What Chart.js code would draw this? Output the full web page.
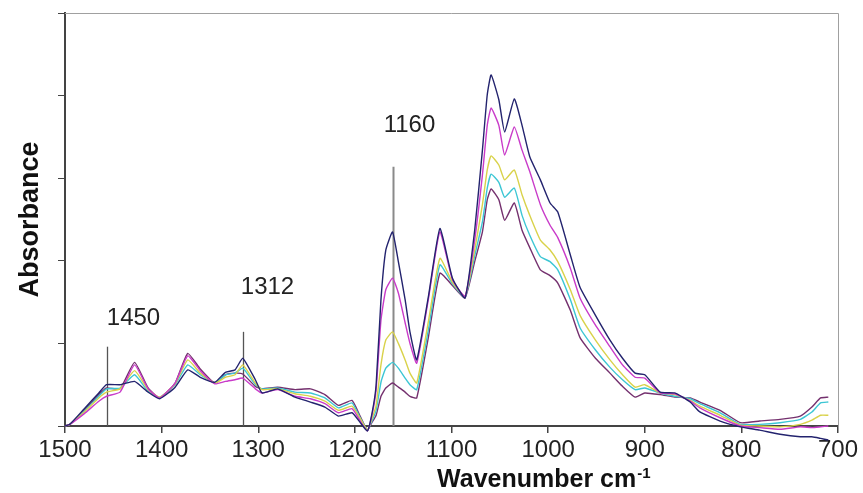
<!DOCTYPE html>
<html>
<head>
<meta charset="utf-8">
<script src="https://cdn.jsdelivr.net/npm/chart.js@4.4.1/dist/chart.umd.min.js"></script>
<style>
  html, body { margin: 0; padding: 0; background: #fff; }
  #wrap { width: 863px; height: 493px; }
</style>
</head>
<body>
<div id="wrap"><canvas id="canvas" width="863" height="493"></canvas></div>
<script>
// wavenumbers (cm-1), shared by all spectra
const wavenumbers = [1500, 1495, 1480, 1465, 1457, 1443, 1428, 1414, 1402, 1386, 1373, 1360, 1345, 1334, 1324, 1316, 1303, 1296, 1280, 1262,
	1246, 1231, 1217, 1203, 1195, 1187, 1182, 1178, 1173, 1168, 1161, 1155, 1148, 1143, 1136, 1124, 1112, 1099, 1086, 1076,
	1068, 1063, 1059, 1051, 1045, 1035, 1027, 1019, 1008, 998, 990, 977, 967, 951, 936, 923, 910, 900, 884, 869,
	853, 843, 822, 801, 781, 760, 739, 727, 718, 710];

// absorbance of each spectrum (arbitrary units)
const navySeries = [0, 0.02, 0.21, 0.40, 0.50, 0.50, 0.54, 0.41, 0.33, 0.47, 0.68, 0.59, 0.53, 0.65, 0.68, 0.82, 0.56, 0.40, 0.45, 0.35,
	0.29, 0.23, 0.12, 0.16, 0.05, -0.06, 0.17, 0.50, 1.53, 2.13, 2.35, 1.99, 1.53, 1.14, 0.80, 1.56, 2.39, 1.79, 1.55, 2.37,
	3.34, 4.01, 4.25, 3.95, 3.56, 3.96, 3.64, 3.26, 2.98, 2.70, 2.59, 2.07, 1.68, 1.34, 1.04, 0.82, 0.64, 0.62, 0.41, 0.40,
	0.29, 0.17, 0.06, -0.01, -0.05, -0.10, -0.13, -0.13, -0.15, -0.17];
const magentaSeries = [0, 0.02, 0.15, 0.30, 0.36, 0.41, 0.74, 0.45, 0.34, 0.52, 0.85, 0.67, 0.51, 0.54, 0.56, 0.58, 0.45, 0.40, 0.44, 0.36,
	0.33, 0.27, 0.16, 0.21, 0.07, -0.06, 0.15, 0.44, 1.28, 1.65, 1.79, 1.61, 1.25, 1.00, 0.76, 1.53, 2.35, 1.77, 1.57, 2.25,
	3.04, 3.64, 3.85, 3.64, 3.28, 3.62, 3.34, 3.08, 2.68, 2.43, 2.28, 1.91, 1.55, 1.22, 0.96, 0.74, 0.59, 0.58, 0.40, 0.39,
	0.30, 0.22, 0.10, 0, -0.02, -0.04, -0.01, -0.02, -0.01, 0];
const yellowSeries = [0, 0.02, 0.17, 0.34, 0.41, 0.45, 0.67, 0.44, 0.35, 0.51, 0.80, 0.64, 0.52, 0.59, 0.62, 0.74, 0.52, 0.44, 0.45, 0.39,
	0.36, 0.30, 0.19, 0.24, 0.10, -0.05, 0.10, 0.25, 0.74, 1.04, 1.14, 1.00, 0.80, 0.64, 0.52, 1.26, 2.03, 1.74, 1.57, 2.13,
	2.68, 3.10, 3.27, 3.16, 2.98, 3.10, 2.80, 2.55, 2.25, 2.13, 1.99, 1.65, 1.34, 1.04, 0.80, 0.62, 0.47, 0.50, 0.40, 0.38,
	0.31, 0.24, 0.13, 0.01, 0, -0.01, 0.02, 0.07, 0.13, 0.13];
const cyanSeries = [0, 0.02, 0.18, 0.36, 0.45, 0.46, 0.62, 0.42, 0.35, 0.50, 0.74, 0.62, 0.52, 0.62, 0.64, 0.70, 0.50, 0.45, 0.46, 0.41,
	0.40, 0.34, 0.22, 0.28, 0.11, -0.05, 0.07, 0.19, 0.53, 0.70, 0.77, 0.70, 0.58, 0.50, 0.44, 1.16, 1.95, 1.72, 1.56, 2.06,
	2.47, 2.88, 3.05, 2.95, 2.77, 2.88, 2.55, 2.31, 2.05, 1.99, 1.89, 1.53, 1.19, 0.92, 0.71, 0.56, 0.44, 0.46, 0.40, 0.36,
	0.33, 0.27, 0.16, 0.02, 0.02, 0.04, 0.08, 0.17, 0.28, 0.29];
const purpleSeries = [0, 0.02, 0.19, 0.38, 0.46, 0.45, 0.77, 0.46, 0.34, 0.52, 0.88, 0.69, 0.52, 0.62, 0.64, 0.63, 0.48, 0.45, 0.47, 0.44,
	0.45, 0.38, 0.25, 0.31, 0.13, -0.05, 0.05, 0.13, 0.36, 0.46, 0.52, 0.47, 0.41, 0.36, 0.34, 1.07, 1.85, 1.70, 1.55, 1.99,
	2.35, 2.74, 2.87, 2.74, 2.49, 2.70, 2.37, 2.16, 1.89, 1.82, 1.73, 1.40, 1.07, 0.82, 0.64, 0.48, 0.35, 0.40, 0.38, 0.35,
	0.34, 0.29, 0.19, 0.04, 0.06, 0.08, 0.12, 0.23, 0.34, 0.35];

// x axis tick labels
const xTicks = [1500, 1400, 1300, 1200, 1100, 1000, 900, 800, 700];

// marked bands: label, position, top of the marker line
const bandLabels = ["1450", "1312", "1160"];
const bandPos = [1457, 1316, 1161];
const bandTop = [0.96, 1.14, 3.14];

const seriesList = [
	{ data: navySeries, color: '#23236e' },
	{ data: magentaSeries, color: '#c93bc9' },
	{ data: yellowSeries, color: '#d9d24a' },
	{ data: cyanSeries, color: '#3cc6d4' },
	{ data: purpleSeries, color: '#74306e' }
];

const FONT = '"Liberation Sans", Arial, sans-serif';

// grey frame, band markers and the x title
const bandPlugin = {
	id: 'bands',
	beforeDatasetsDraw(chart) {
		const ctx = chart.ctx;
		const area = chart.chartArea;
		const xs = chart.scales.x;
		const ys = chart.scales.y;
		ctx.save();
		ctx.strokeStyle = '#a0a0a0';
		ctx.lineWidth = 1;
		ctx.beginPath();
		ctx.moveTo(area.left, area.top + 0.5);
		ctx.lineTo(area.right + 0.5, area.top + 0.5);
		ctx.lineTo(area.right + 0.5, area.bottom);
		ctx.stroke();
		// label offsets relative to the marker line top (px)
		const labelOffset = [[26, -28], [24, -44], [16, -41]];
		for (let i = 0; i < bandPos.length; i++) {
			const x = Math.round(xs.getPixelForValue(bandPos[i])) + 0.5;
			const yTop = ys.getPixelForValue(bandTop[i]);
			ctx.strokeStyle = i === 2 ? '#8a8a8a' : '#555';
			ctx.lineWidth = i === 2 ? 2 : 1.3;
			ctx.beginPath();
			ctx.moveTo(x, area.bottom);
			ctx.lineTo(x, yTop);
			ctx.stroke();
			ctx.fillStyle = '#222';
			ctx.font = '24px ' + FONT;
			ctx.textAlign = 'center';
			ctx.textBaseline = 'middle';
			ctx.fillText(bandLabels[i], x + labelOffset[i][0], yTop + labelOffset[i][1]);
		}
		ctx.restore();
	},
	afterDraw(chart) {
		// "Wavenumber cm-1" with superscript, sits under 1100..900
		const ctx = chart.ctx;
		const xs = chart.scales.x;
		ctx.save();
		ctx.fillStyle = '#111';
		ctx.textBaseline = 'alphabetic';
		ctx.textAlign = 'left';
		const mainFont = 'bold 25px ' + FONT;
		const supFont = 'bold 15px ' + FONT;
		const main = 'Wavenumber cm';
		ctx.font = mainFont;
		const w1 = ctx.measureText(main).width;
		ctx.font = supFont;
		const w2 = ctx.measureText('-1').width;
		const cx = xs.getPixelForValue(1005);
		const x0 = cx - (w1 + w2) / 2;
		const base = 487;
		ctx.font = mainFont;
		ctx.fillText(main, x0, base);
		ctx.font = supFont;
		ctx.fillText('-1', x0 + w1 + 1, base - 9);
		ctx.restore();
	}
};

const canvas = document.getElementById('canvas');
const context = canvas.getContext('2d');

new Chart(context, {
	type: 'line',
	data: {
		datasets: seriesList.map(s => ({
			data: wavenumbers.map((w, i) => ({ x: w, y: s.data[i] })),
			borderColor: s.color,
			borderWidth: 1.4,
			pointRadius: 0,
			tension: 0.15,
			fill: false,
			clip: false
		}))
	},
	options: {
		responsive: false,
		animation: false,
		layout: { padding: { top: 13, right: 25, left: 0, bottom: 0 } },
		plugins: {
			legend: { display: false },
			tooltip: { enabled: false }
		},
		scales: {
			x: {
				type: 'linear',
				reverse: true,
				min: 700,
				max: 1500,
				afterBuildTicks: (scale) => { scale.ticks = xTicks.map(v => ({ value: v })); },
				afterFit: (scale) => { scale.height = 67; },
				grid: { drawOnChartArea: false, drawTicks: true, tickLength: 7, color: '#444', lineWidth: 1.5 },
				border: { display: true, color: '#444', width: 2 },
				ticks: {
					color: '#222',
					padding: 3,
					maxRotation: 0,
					callback: (v) => String(v),
					font: { family: FONT, size: 24 }
				}
			},
			y: {
				min: 0,
				max: 5,
				afterFit: (scale) => { scale.width = 65; },
				grid: { drawOnChartArea: false, drawTicks: true, tickLength: 7, color: '#444', lineWidth: 1 },
				border: { display: true, color: '#444', width: 2 },
				ticks: { stepSize: 1, display: false },
				title: {
					display: true,
					text: 'Absorbance',
					color: '#111',
					padding: { top: 14, bottom: 0 },
					font: { family: FONT, size: 27, weight: 'bold' }
				}
			}
		}
	},
	plugins: [bandPlugin]
});
</script>
</body>
</html>
